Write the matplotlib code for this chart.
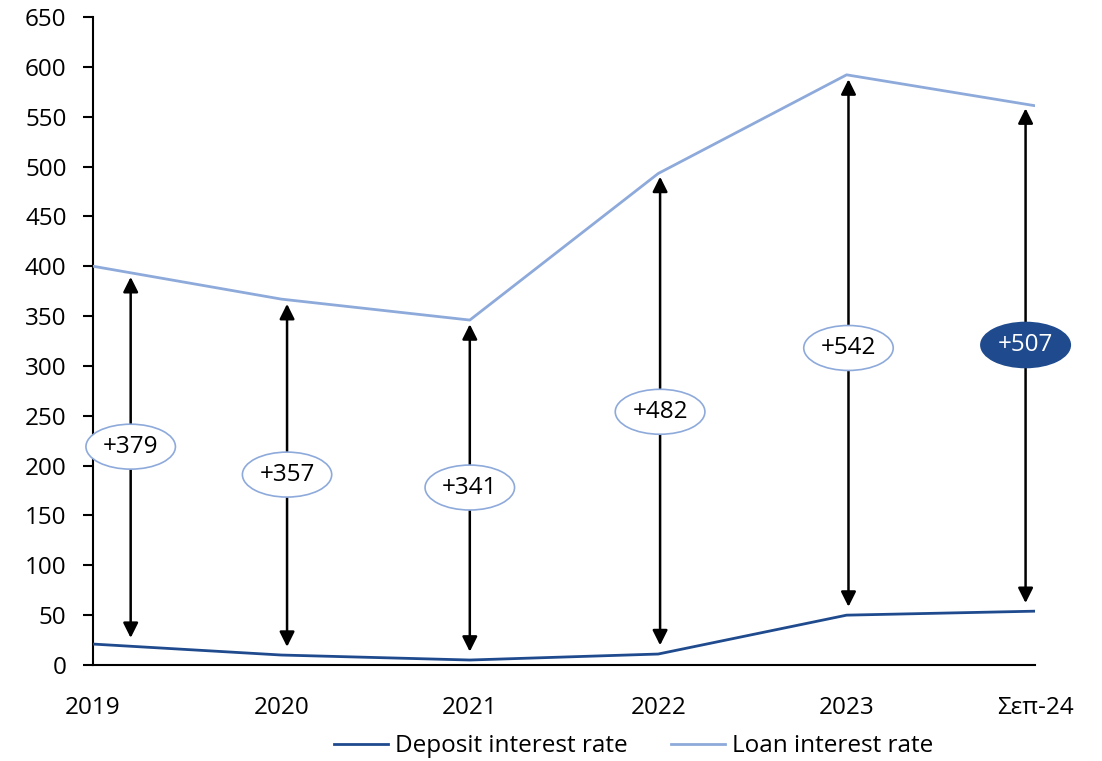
import matplotlib.pyplot as plt
import numpy as np

plt.rcParams['font.family'] = ['Open Sans', 'DejaVu Sans']

# categories and series (basis points)
periods = ['2019', '2020', '2021', '2022', '2023', 'Σεπ-24']
deposit = [21, 10, 5, 11, 50, 54]
loan = [400, 367, 346, 493, 592, 561]
spread_labels = ['+379', '+357', '+341', '+482', '+542', '+507']

# where each spread arrow / bubble goes
arrow_x = [0.2, 1.03, 2.0, 3.01, 4.01, 4.95]
bubble_y = [219, 191, 178, 254, 318, 321]

dep_color = '#1f4b8e'
loan_color = '#8eaadb'
fsize = 17.5

fig = plt.figure(figsize=(11.02, 7.61), dpi=100)
ax = fig.add_axes([93/1102, 1 - 665/761, (1035 - 93)/1102, (665 - 17)/761])

x = np.arange(len(periods))
ax.plot(x, deposit, color=dep_color, lw=2, label='Deposit interest rate', zorder=3)
ax.plot(x, loan, color=loan_color, lw=2, label='Loan interest rate', zorder=3)

for k in range(len(arrow_x)):
    xa = arrow_x[k]
    lo = np.interp(xa, x, deposit)
    hi = np.interp(xa, x, loan)
    ax.annotate('', xy=(xa, hi), xytext=(xa, lo),
                arrowprops=dict(arrowstyle='<|-|>,head_length=0.9,head_width=0.45',
                                color='black', lw=1.8, shrinkA=6, shrinkB=3),
                zorder=2)
    last = k == len(arrow_x) - 1
    ax.text(xa, bubble_y[k], spread_labels[k], ha='center', va='center',
            fontsize=fsize, color='white' if last else 'black', zorder=4,
            bbox=dict(boxstyle='ellipse,pad=0.16',
                      fc=dep_color if last else 'white',
                      ec=dep_color if last else loan_color, lw=1.2))

ax.set_xlim(0, 5)
ax.set_ylim(0, 650)
ax.set_yticks(range(0, 651, 50))
ax.set_xticks(x)
ax.set_xticklabels(periods)
ax.tick_params(axis='y', direction='out', length=7, width=1.5, pad=12, labelsize=fsize)
ax.tick_params(axis='x', length=0, pad=22, labelsize=fsize)
ax.spines['top'].set_visible(False)
ax.spines['right'].set_visible(False)
for s in ['left', 'bottom']:
    ax.spines[s].set_linewidth(1.5)

fig.legend(loc='lower center', bbox_to_anchor=(0.575, -0.025), ncol=2, frameon=False,
           fontsize=fsize, handlelength=2.2, columnspacing=1.8, handletextpad=0.3)

fig.savefig('out.png', dpi=100)
